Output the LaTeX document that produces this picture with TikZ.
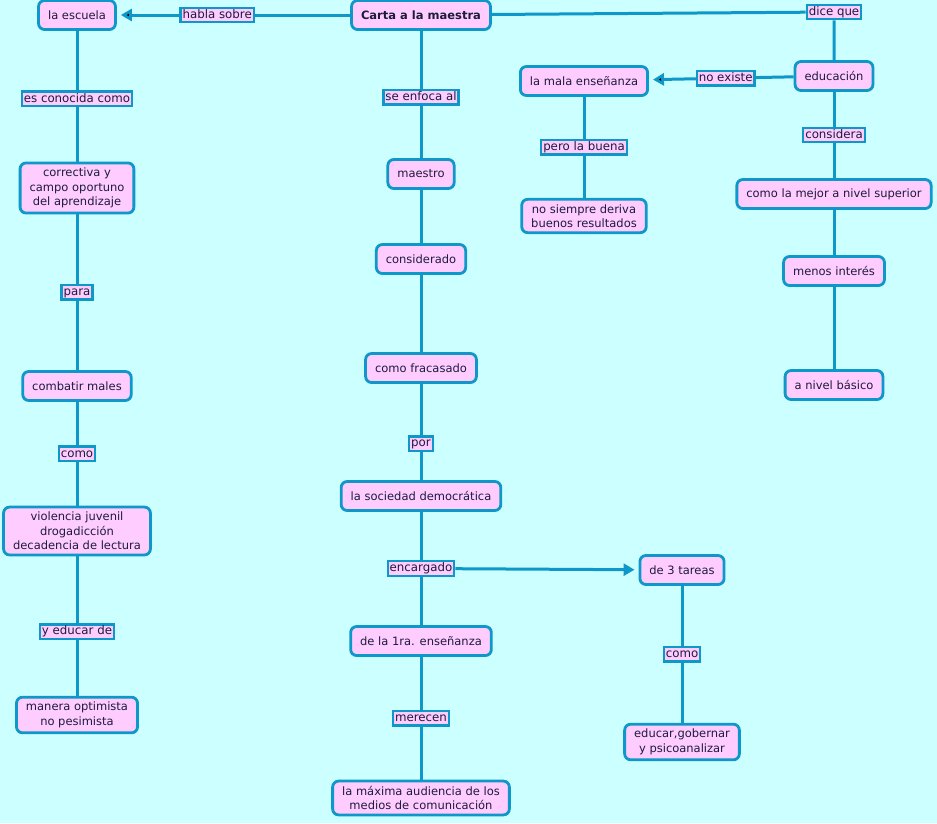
\documentclass[tikz,border=0pt]{standalone}
\usepackage{fontspec}
\setmainfont{DejaVu Sans}
\usetikzlibrary{positioning, arrows.meta}

\definecolor{fondo}{HTML}{CCFFFF}
\definecolor{rosa}{HTML}{FFCCFF}
\definecolor{borde}{HTML}{0E97C9}
\definecolor{letra}{HTML}{1C1C3C}

\tikzset{
  concepto/.style={draw=borde, fill=rosa, line width=2.8pt, rounded corners=6pt,
    inner xsep=9.5pt, inner ysep=5pt, minimum height=29pt, align=center,
    text=letra, font=\fontsize{11.5}{14.5}\selectfont},
  enlace/.style={draw=borde, fill=rosa, line width=2.4pt, inner xsep=2pt, inner ysep=1.5pt,
    text height=9pt, text depth=2.5pt, text=letra, font=\fontsize{11.8}{13}\selectfont},
  conector/.style={draw=borde, line width=3pt},
  flecha/.style={->, shorten >=4pt},
}

\begin{document}
\begin{tikzpicture}[x=1pt, y=-1pt, >={Triangle[length=11pt, width=12pt]}, on grid]
		\fill[fondo] (0,0) rectangle (937,823);
		\useasboundingbox (0,0) rectangle (937,823);

		% conceptos
		\node[concepto, font=\fontsize{11.5}{14.5}\selectfont\bfseries] (carta) at (421,15) {Carta a la maestra};
		\node[concepto] (escuela)    at (77,15)              {la escuela};
		\node[concepto] (correctiva) [below=173pt of escuela]    {correctiva y\\campo oportuno\\del aprendizaje};
		\node[concepto] (combatir)   [below=198pt of correctiva] {combatir males};
		\node[concepto] (violencia)  [below=145pt of combatir]   {violencia juvenil\\drogadicción\\decadencia de lectura};
		\node[concepto] (manera)     [below=184pt of violencia]  {manera optimista\\no pesimista};

		\node[concepto] (maestro)     [below=159pt of carta]       {maestro};
		\node[concepto] (considerado) [below=85pt of maestro]      {considerado};
		\node[concepto] (fracasado)   [below=109pt of considerado] {como fracasado};
		\node[concepto] (sociedad)    [below=128pt of fracasado]   {la sociedad democrática};
		\node[concepto] (primera)     [below=145pt of sociedad]    {de la 1ra. enseñanza};
		\node[concepto] (maxima)      [below=157pt of primera]     {la máxima audiencia de los\\medios de comunicación};

		\node[enlace]   (dice)      at (834,12)              {dice que};
		\node[concepto] (educacion) [below=64pt of dice]       {educación};
		\node[concepto] (mejor)     [below=118pt of educacion] {como la mejor a nivel superior};
		\node[concepto] (menos)     [below=77pt of mejor]      {menos interés};
		\node[concepto] (basico)    [below=114pt of menos]     {a nivel básico};
		\node[concepto] (mala)      at (584,81)              {la mala enseñanza};
		\node[concepto] (nosiempre) [below=135pt of mala]      {no siempre deriva\\buenos resultados};

		\node[concepto] (tareas) at (682,570)          {de 3 tareas};
		\node[concepto] (educar) [below=172pt of tareas] {educar,gobernar\\y psicoanalizar};

		% conexiones
		\path[conector]
		(carta)     edge[flecha] node[enlace, pos=0.57] {habla sobre}      (escuela)
		(escuela)   edge      node[enlace, pos=0.52] {es conocida como} (correctiva)
		(correctiva) edge     node[enlace]           {para}             (combatir)
		(combatir)  edge      node[enlace]           {como}             (violencia)
		(violencia) edge      node[enlace, pos=0.54] {y educar de}      (manera)
		(carta)     edge      node[enlace, pos=0.52] {se enfoca al}     (maestro)
		(maestro)   edge                                                (considerado)
		(considerado) edge                                              (fracasado)
		(fracasado) edge      node[enlace, pos=0.62] {por}              (sociedad)
		(primera)   edge      node[enlace]           {merecen}          (maxima)
		(educacion) edge[flecha] node[enlace, pos=0.47] {no existe}     (mala)
		(mala)      edge      node[enlace]           {pero la buena}    (nosiempre)
		(educacion) edge      node[enlace]           {considera}        (mejor)
		(mejor)     edge                                                (menos)
		(menos)     edge                                                (basico)
		(tareas)    edge      node[enlace]           {como}             (educar);

		\draw[conector] (carta) -- (dice) -- (educacion);
		\draw[conector] (sociedad) -- node[enlace] (encargado) {encargado} (primera);
		\draw[conector, flecha] (encargado) -- (tareas);
	\end{tikzpicture}
\end{document}
